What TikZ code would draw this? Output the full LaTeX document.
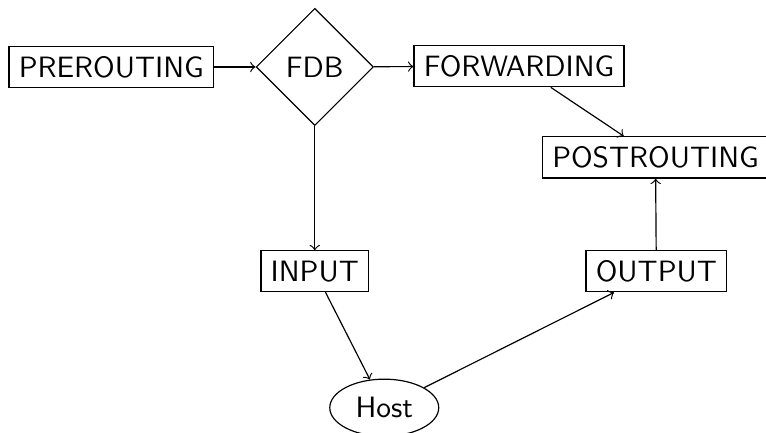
\documentclass[tikz,border=0pt]{standalone}
\usepackage{tikz}
\usetikzlibrary{arrows, shapes.geometric, positioning, calc}

\begin{document}
\begin{tikzpicture}[font=\sffamily,
    chain/.style={draw, rectangle},
    decision/.style={draw, diamond, aspect=1},
    endpoint/.style={draw, ellipse},
    flow/.style={->}]
  \useasboundingbox (0, 0) rectangle (9.15, -5.17);

  \node [chain] (prerouting) at (1.33, -0.80) {PREROUTING};
  \node [decision] (fdb) at (3.76, -0.80) {FDB};
  \node [chain] (forwarding) at (6.20, -0.79) {FORWARDING};
  \node [chain] (postrouting) at (7.83, -1.88) {POSTROUTING};
  \node [chain] (input) at (3.76, -3.24) {INPUT};
  \node [chain] (output) at (7.84, -3.24) {OUTPUT};
  \node [endpoint] (host) at (4.59, -4.87) {Host};

  \draw [flow] (prerouting) -- (fdb);
  \draw [flow] (fdb) -- (forwarding);
  \draw [flow] (fdb) -- (input);
  \draw [flow] (forwarding) -- (postrouting);
  \draw [flow] (input) -- (host);
  \draw [flow] (host) -- (output);
  \draw [flow] (output) -- (postrouting);

\end{tikzpicture}
\end{document}
